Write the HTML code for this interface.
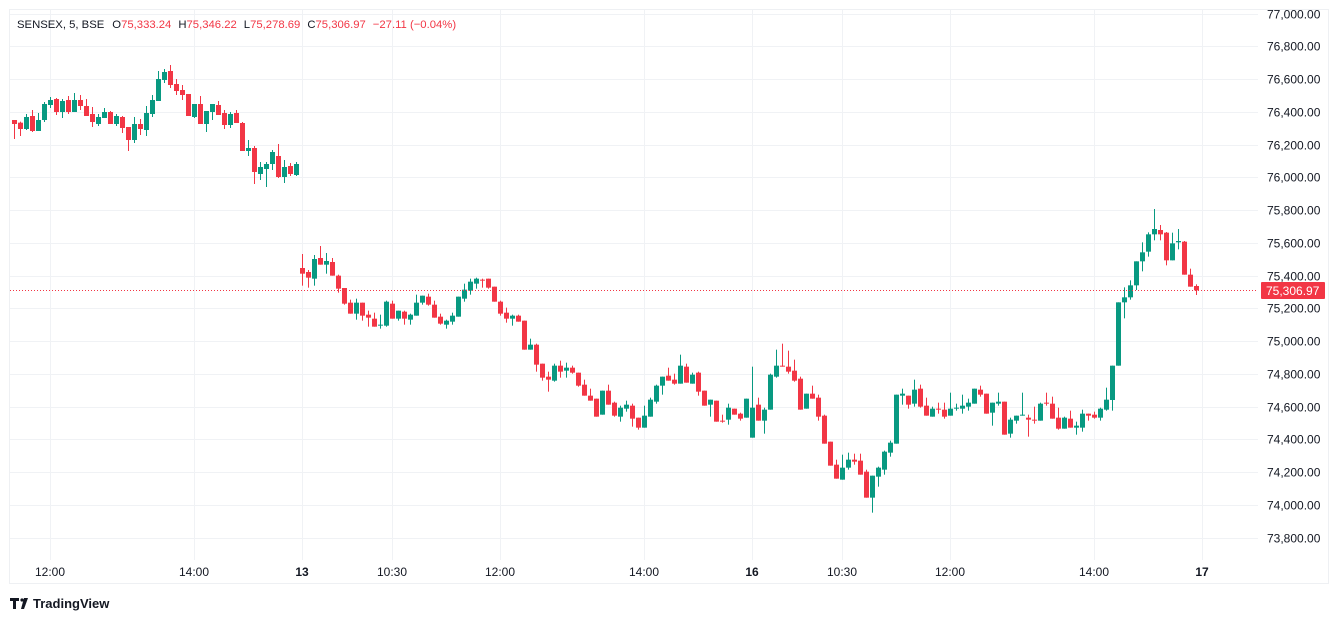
<!DOCTYPE html>
<html><head><meta charset="utf-8">
<style>
html,body{margin:0;padding:0;background:#fff;width:1339px;height:621px;overflow:hidden;font-family:"Liberation Sans",sans-serif}
svg{position:absolute;left:0;top:0}
</style></head>
<body>
<svg id="s" width="1339" height="621" xmlns="http://www.w3.org/2000/svg" font-family="Liberation Sans, sans-serif">
<rect x="9.5" y="9.5" width="1319" height="574" fill="none" stroke="#eef0f3"/>
<g id="grid" stroke="#f0f2f5" stroke-width="1"></g>
<g id="candles"></g>
<line x1="10" y1="290.5" x2="1258" y2="290.5" stroke="#f23645" stroke-width="1" stroke-dasharray="1,2"/>
<g id="plab" font-size="12" fill="#131722"></g>
<rect x="1261" y="282" width="64" height="17" rx="1" fill="#f23645"/>
<text x="1266" y="295" font-size="12" fill="#fff">75,306.97</text>
<g font-size="12" fill="#131722" text-anchor="middle">
<text x="50" y="576">12:00</text>
<text x="194" y="576">14:00</text>
<text x="302" y="576" font-weight="bold">13</text>
<text x="392" y="576">10:30</text>
<text x="500" y="576">12:00</text>
<text x="644" y="576">14:00</text>
<text x="752" y="576" font-weight="bold">16</text>
<text x="842" y="576">10:30</text>
<text x="950" y="576">12:00</text>
<text x="1094" y="576">14:00</text>
<text x="1202" y="576" font-weight="bold">17</text>
</g>
<text x="17" y="28" font-size="11.3" fill="#131722">SENSEX, 5, BSE<tspan dx="8">O</tspan><tspan fill="#f23645">75,333.24</tspan><tspan dx="7">H</tspan><tspan fill="#f23645">75,346.22</tspan><tspan dx="7">L</tspan><tspan fill="#f23645">75,278.69</tspan><tspan dx="7">C</tspan><tspan fill="#f23645">75,306.97</tspan><tspan dx="7" fill="#f23645">−27.11 (−0.04%)</tspan></text>
<g fill="#131722">
<path d="M10 598h9v3h-3v8h-3v-8h-3z"/>
<circle cx="22" cy="600" r="1.6"/>
<path d="M24 598h4l-4 11h-3z"/>
<text x="33" y="608" font-size="13" font-weight="bold">TradingView</text>
</g>
</svg>
<script>
var NS="http://www.w3.org/2000/svg";
function el(p,t,a){var e=document.createElementNS(NS,t);for(var k in a)e.setAttribute(k,a[k]);p.appendChild(e);return e;}
var grid=document.getElementById('grid'),plab=document.getElementById('plab'),cg=document.getElementById('candles');
function yp(p){return 210+(75800-p)*0.16375;}
for(var p=73800;p<=77000;p+=200){var y=Math.round(yp(p))+0.5;el(grid,'line',{x1:10,x2:1258,y1:y,y2:y});
var t=el(plab,'text',{x:1267,y:y+4});t.textContent=p.toLocaleString('en-US')+'.00';}
[50,194,302,392,500,644,752,842,950,1094,1202].forEach(function(x){el(grid,'line',{x1:x+0.5,x2:x+0.5,y1:10,y2:560});});
var G1="r,210,222,210,267;r,218,237,215,258;g,201,237,192,240;r,198,243,180,246;g,210,243,189,243;g,162,210,156,216;g,150,165,141,174;r,147,186,144,195;g,153,186,147,204;r,150,186,138,192;g,150,186,129,186;r,150,168,135,180;r,168,198,147,198;r,192,216,171,231;g,201,222,192,228;g,186,204,174,204;r,186,222,183,222;g,198,222,192,228;r,201,234,198,249;r,231,270,231,303;g,222,270,201,279;r,222,237,207,255;g,189,240,168,258;g,150,192,135,201;g,87,153,63,153;g,66,90,57,99;r,63,105,45,114;r,102,123,87,135;r,120,135,105,150;r,132,198,132,198;g,162,201,162,204;r,162,222,138,222;g,183,222,183,246;g,162,186,162,210;r,165,195,153,195;r,189,225,180,237;g,192,225,186,234;r,189,219,180,219;r,219,303,216,303;g,294,303,270,318;r,294,366,288,402;g,351,372,336,390;g,342,357,336,411;g,306,342,300,360;r,318,381,282,384;g,351,381,330,399;r,348,372,339,378;g,342,375,336,378";
var G2="r,84,101,42,137;r,96,113,90,143;g,57,116,45,137;r,54,74,18,74;g,63,74,39,101;r,66,107,54,107;r,107,146,104,158;r,144,191,144,194;r,188,221,179,221;g,188,221,176,239;r,188,227,188,242;r,224,233,212,260;r,236,260,218,260;g,254,257,224,266;g,185,257,182,260;r,191,236,182,236;g,212,236,212,242;r,215,236,212,254;g,224,239,221,254;g,188,227,164,227;g,167,188,167,194;r,170,194,161,197;r,194,233,182,233;r,230,251,221,254;g,242,254,239,266;g,227,245,218,254;g,170,230,170,230;g,149,176,131,185;g,125,152,116,164;g,116,131,113,146;r,119,121,116,143;r,116,143,116,146;r,140,185,140,185;r,185,221,182,227;r,218,236,203,248;g,227,236,224,257;r,227,245,224,245;r,242,329,242,329;g,314,329,296,329;r,314,374,311,395;r,371,413,371,422";
var G3="r,110,119,95,155;g,77,122,71,125;r,77,95,62,113;g,83,92,68,113;r,83,98,77,101;r,98,137,98,140;r,134,167,119,167;r,167,182,146,182;r,176,230,176,230;g,152,224,152,224;r,152,194,134,194;r,188,227,185,230;g,203,230,197,245;g,194,206,182,215;r,197,236,191,260;r,233,263,233,269;g,227,263,197,263;g,179,230,173,230;g,137,185,134,191;g,110,137,110,164;r,107,122,83,122;r,119,131,101,134;g,77,131,44,131;r,80,128,71,128;g,104,131,98,131;r,98,155,95,167;r,152,197,152,197;g,179,194,179,230;r,182,245,182,245;r,242,245,224,248;g,203,239,191,254;r,206,224,206,224;r,221,236,218,242;g,176,233,176,233;g,203,293,80,293;r,194,242,173,242;g,209,242,203,281;g,104,209,101,209;g,77,110,29,113;r,77,79,11,80;r,80,95,32,101;r,92,122,59,125;r,116,209,110,209;g,161,206,161,206;r,161,176,137,176;r,173,230,164,242;r,227,311,224,311";
var G4="r,215,287,215,287;r,284,326,269,326;g,293,329,254,329;g,269,293,248,299;r,269,275,251,284;r,272,314,251,314;r,305,383,299,383;g,317,383,317,428;g,293,320,290,350;g,245,299,242,314;g,218,248,212,260;g,74,221,74,221;g,71,77,56,104;r,77,104,77,116;g,59,101,29,110;r,56,110,44,113;r,107,137,83,137;g,116,140,110,140;r,116,119,98,131;r,119,140,98,146;g,116,137,68,137;g,113,116,101,122;g,107,116,74,131;g,98,110,86,122;g,56,101,56,101;r,59,74,47,80;r,71,131,71,131;g,98,128,98,167;g,95,101,68,107;r,95,194,95,194;g,149,191,143,203;g,137,152,137,161;g,134,137,68,137;r,143,149,134,200;r,149,152,110,161;g,101,152,98,152;r,98,101,68,107;r,101,146,80,146;r,143,176,113,179;g,143,176,140,176;r,146,173,122,173;g,167,173,155,194;g,131,173,119,185;r,131,137,131,152;r,134,143,125,146;g,116,143,113,152;g,89,119,53,122";
var G5="g,497,600,497,632;g,307,497,307,497;g,292,307,262,355;g,256,292,241,299;g,184,256,184,270;g,157,184,127,214;g,103,155,97,170;g,87,103,27,121;r,90,103,75,121;r,98,181,96,196;g,130,181,98,181;g,123,127,87,148;r,125,224,123,224;r,224,260,206,260;r,258,271,253,285";
function draw(str,x0,yoff){
 str.split(';').forEach(function(s,i){var a=s.split(',');var x=Math.round(x0+i*6);
 var col=a[0]=='g'?'#089981':'#f23645';
 var bt=yoff+a[1]/3,bb=yoff+a[2]/3,wt=yoff+a[3]/3,wb=yoff+a[4]/3;
 el(cg,'rect',{x:x,y:wt,width:1,height:Math.max(1,wb-wt),fill:col});
 el(cg,'rect',{x:x-2,y:bt,width:5,height:Math.max(1,bb-bt),fill:col});});
 return str.split(';').length;}
draw(G1,14.3,50);
var n=draw(G2,302.3,240);
n+=draw(G3,302.3+n*6,340);
n+=draw(G4,302.3+n*6,370);
draw(G5,302.3+n*6,200);
</script>
</body></html>
